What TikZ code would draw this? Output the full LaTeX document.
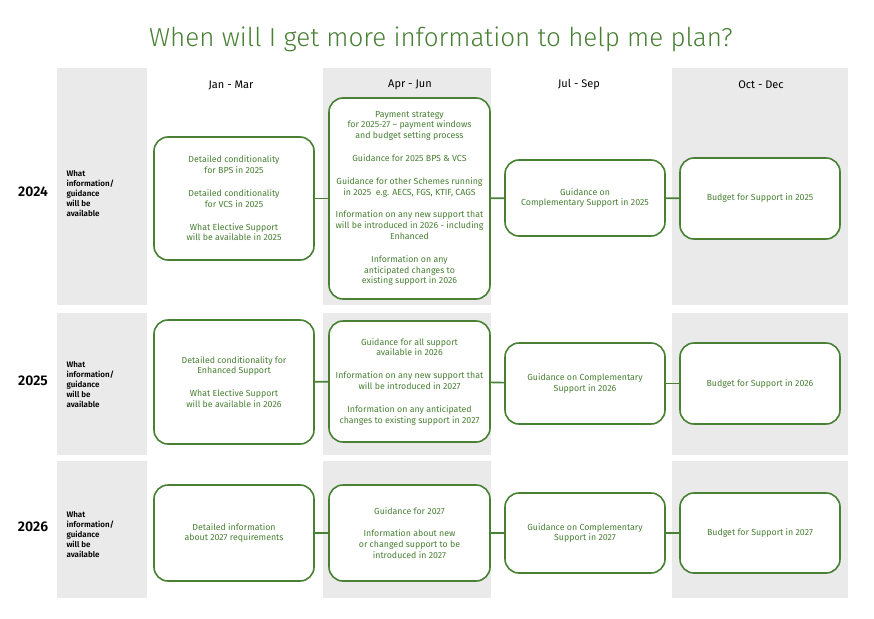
\documentclass[tikz,border=0pt]{standalone}
\usepackage{fontspec}
\setmainfont{Fira Sans}[BoldFont=Fira Sans SemiBold]
\newfontfamily\titlefont{Fira Sans Light}
\usetikzlibrary{positioning}
\definecolor{leaf}{RGB}{72,128,52}
\definecolor{panelgrey}{RGB}{234,234,234}
\tikzset{
  infobox/.style={draw=leaf, line width=1.6pt, rounded corners=14pt, fill=white, text=leaf, align=center, font=\fontsize{8.8}{10.8}\selectfont, inner sep=2pt},
  link/.style={draw=leaf, line width=1.6pt},
  yearlabel/.style={font=\bfseries\fontsize{14}{16}\selectfont},
  sidelabel/.style={font=\bfseries\fontsize{8}{10}\selectfont, align=left, anchor=west},
  quarter/.style={font=\fontsize{11}{13}\selectfont}
}
\begin{document}
\begin{tikzpicture}[x=1pt,y=-1pt]
\useasboundingbox (0,0) rectangle (874,618);

% backgrounds
\fill[panelgrey] (57,68) rectangle (147,305);
\fill[panelgrey] (57,313) rectangle (147,455);
\fill[panelgrey] (57,461) rectangle (147,598);
\fill[panelgrey] (323,68) rectangle (491,305);
\fill[panelgrey] (323,313) rectangle (491,455);
\fill[panelgrey] (323,461) rectangle (491,598);
\fill[panelgrey] (672,68) rectangle (848,305);
\fill[panelgrey] (672,313) rectangle (848,455);
\fill[panelgrey] (672,461) rectangle (848,598);

% title and headers
\node[text=leaf, font=\titlefont\fontsize{26}{30}\selectfont] (title) at (441,39) {When will I get more information to help me plan?};
\node[quarter] (q1) at (231,85) {Jan - Mar};
\node[quarter] (q2) at (410,85) {Apr - Jun};
\node[quarter] (q3) at (579,85) {Jul - Sep};
\node[quarter] (q4) at (761,85) {Oct - Dec};

% years
\node[yearlabel] (y24) at (33,192) {2024};
\node[yearlabel] (y25) at (33,381) {2025};
\node[yearlabel] (y26) at (33,527) {2026};
\node[sidelabel] (s24) at (63,194) {What\\information/\\guidance\\will be\\available};
\node[sidelabel] (s25) at (63,385) {What\\information/\\guidance\\will be\\available};
\node[sidelabel] (s26) at (63,535) {What\\information/\\guidance\\will be\\available};

% 2024
\node[infobox, minimum width=160pt, minimum height=123pt] (a1) at (234,198.5) {Detailed conditionality\\for BPS in 2025\\[12pt]Detailed conditionality\\for VCS in 2025\\[12pt]What Elective Support\\will be available in 2025};
\node[infobox, minimum width=161pt, minimum height=201pt] (a2) at (409.5,198.5) {Payment strategy\\for 2025-27 -- payment windows\\and budget setting process\\[12pt]Guidance for 2025 BPS \& VCS\\[12pt]Guidance for other Schemes running\\in 2025 \ e.g. AECS, FGS, KTIF, CAGS\\[12pt]Information on any new support that\\will be introduced in 2026 - including\\Enhanced\\[12pt]Information on any\\anticipated changes to\\existing support in 2026};
\node[infobox, minimum width=160pt, minimum height=76pt] (a3) at (585,198) {Guidance on\\Complementary Support in 2025};
\node[infobox, minimum width=160pt, minimum height=81pt] (a4) at (760,198.5) {Budget for Support in 2025};
\draw[link] (a1) -- (a2);
\draw[link] (a2) -- (a3);
\draw[link] (a3) -- (a4);

% 2025
\node[infobox, minimum width=160pt, minimum height=124pt] (b1) at (234,382) {Detailed conditionality for\\Enhanced Support\\[12pt]What Elective Support\\will be available in 2026};
\node[infobox, minimum width=161pt, minimum height=121pt] (b2) at (409.5,381.5) {Guidance for all support\\available in 2026\\[12pt]Information on any new support that\\will be introduced in 2027\\[12pt]Information on any anticipated\\changes to existing support in 2027};
\node[infobox, minimum width=160pt, minimum height=81pt] (b3) at (585,383.5) {Guidance on Complementary\\Support in 2026};
\node[infobox, minimum width=160pt, minimum height=81pt] (b4) at (760,383.5) {Budget for Support in 2026};
\draw[link] (b1) -- (b2);
\draw[link] (b2) -- (b3);
\draw[link] (b3) -- (b4);

% 2026
\node[infobox, minimum width=160pt, minimum height=96pt] (c1) at (234,533) {Detailed information\\about 2027 requirements};
\node[infobox, minimum width=161pt, minimum height=96pt] (c2) at (409.5,533) {Guidance for 2027\\[12pt]Information about new\\or changed support to be\\introduced in 2027};
\node[infobox, minimum width=160pt, minimum height=80pt] (c3) at (585,533) {Guidance on Complementary\\Support in 2027};
\node[infobox, minimum width=160pt, minimum height=80pt] (c4) at (760,533) {Budget for Support in 2027};
\draw[link] (c1) -- (c2);
\draw[link] (c2) -- (c3);
\draw[link] (c3) -- (c4);
\end{tikzpicture}
\end{document}
